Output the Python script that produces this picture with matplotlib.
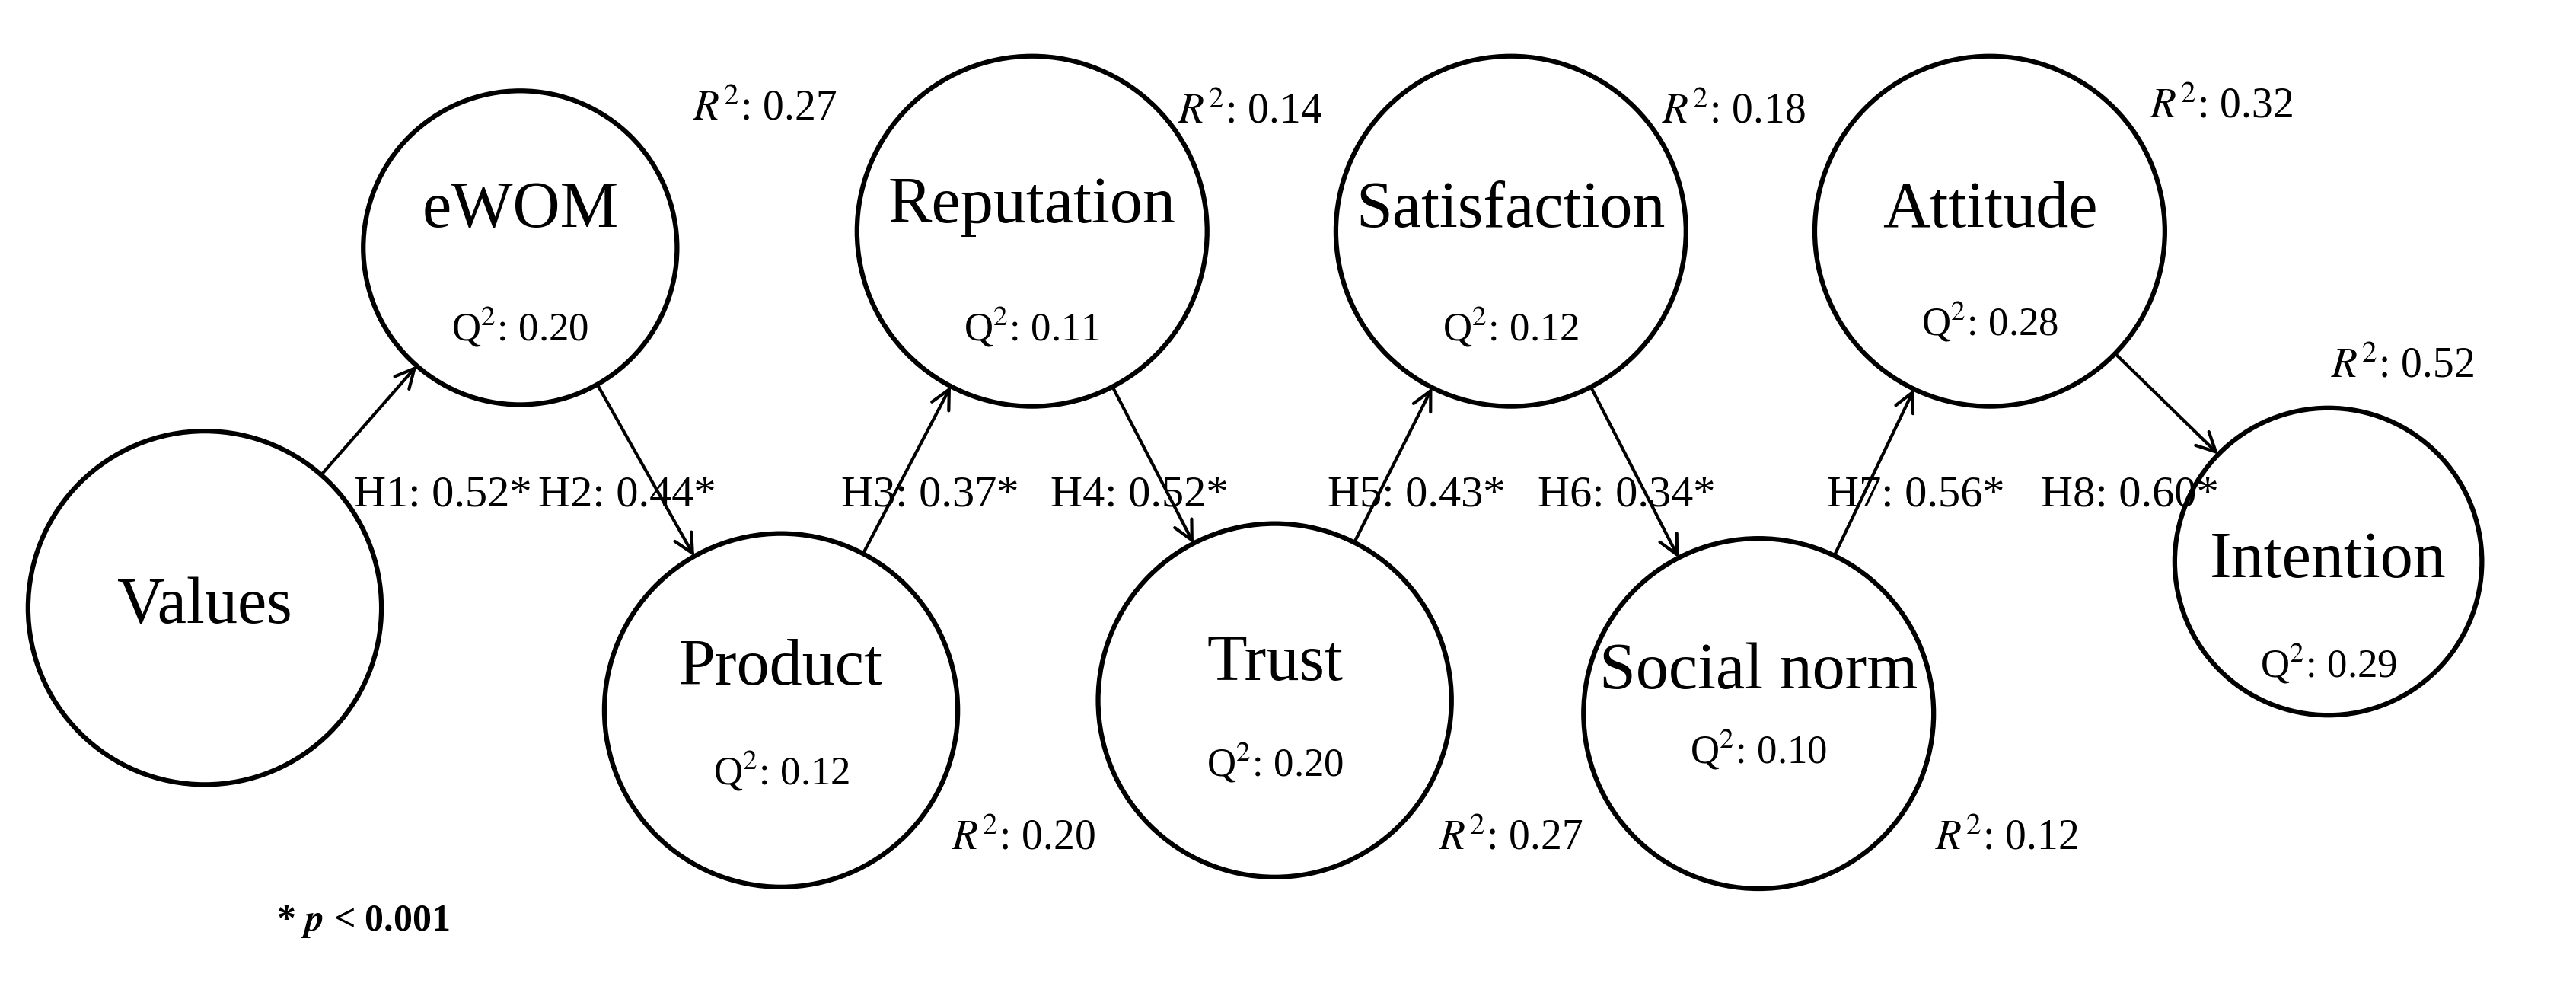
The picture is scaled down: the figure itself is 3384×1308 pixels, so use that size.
import matplotlib.pyplot as plt

plt.rcParams['font.family'] = ['Liberation Serif', 'DejaVu Serif']
plt.rcParams['mathtext.fontset'] = 'stix'

# constructs: name, centre x, centre y, radius (reference pixel grid 1560 x 603)
names = ['Values', 'eWOM', 'Product', 'Reputation', 'Trust', 'Satisfaction',
         'Social norm', 'Attitude', 'Intention']
cx = [124, 315, 473, 625, 772, 915, 1065, 1205, 1410]
cy = [368, 150, 430, 140, 424, 140, 432, 140, 340]
rad = [107, 95, 107, 106, 107, 106, 106, 106, 93]
label_dy = [0, -22, -25, -15, -22, -12, -25, -12, 0]

q2 = [None, 0.20, 0.12, 0.11, 0.20, 0.12, 0.10, 0.28, 0.29]
q2_dy = [0, 48, 37, 58, 38, 58, 22, 55, 62]
r2 = [None, 0.27, 0.20, 0.14, 0.27, 0.18, 0.12, 0.32, 0.52]
r2_pos = [None, (463, 66), (620, 508), (757, 68), (915, 508), (1050, 68),
          (1215, 508), (1345, 65), (1455, 222)]

paths = ['H1', 'H2', 'H3', 'H4', 'H5', 'H6', 'H7', 'H8']
betas = [0.52, 0.44, 0.37, 0.52, 0.43, 0.34, 0.56, 0.60]
path_x = [268, 380, 563, 690, 858, 985, 1160, 1290]
path_y = 300

fig = plt.figure(figsize=(33.84, 13.08), dpi=100)
ax = fig.add_axes([0, 0, 1, 1])
ax.set_xlim(0, 1560)
ax.set_ylim(603, 0)
ax.axis('off')

for i, n in enumerate(names):
    ax.add_patch(plt.Circle((cx[i], cy[i]), rad[i], fill=False, lw=4.5, color='black'))
    ax.text(cx[i], cy[i] + label_dy[i], n, ha='center', va='center', fontsize=62)
    if q2[i] is not None:
        ax.text(cx[i], cy[i] + q2_dy[i], f'Q$^2$: {q2[i]:.2f}', ha='center',
                va='center', fontsize=38)
        x, y = r2_pos[i]
        ax.text(x, y, f'$R^2$: {r2[i]:.2f}', ha='center', va='center', fontsize=40)

for i in range(len(paths)):
    x0, y0, x1, y1 = cx[i], cy[i], cx[i + 1], cy[i + 1]
    d = ((x1 - x0) ** 2 + (y1 - y0) ** 2) ** 0.5
    ux, uy = (x1 - x0) / d, (y1 - y0) / d
    ax.annotate('', xy=(x1 - ux * rad[i + 1], y1 - uy * rad[i + 1]),
                xytext=(x0 + ux * rad[i], y0 + uy * rad[i]),
                arrowprops=dict(arrowstyle='->', lw=3, color='black',
                                mutation_scale=45, shrinkA=0, shrinkB=0))
    ax.text(path_x[i], path_y, f'{paths[i]}: {betas[i]:.2f}*', ha='center',
            va='center', fontsize=42)

ax.text(220, 558, r'* $\mathbfit{p}$ < 0.001', ha='center', va='center',
        fontsize=36, fontweight='bold')

fig.savefig('out.png')
